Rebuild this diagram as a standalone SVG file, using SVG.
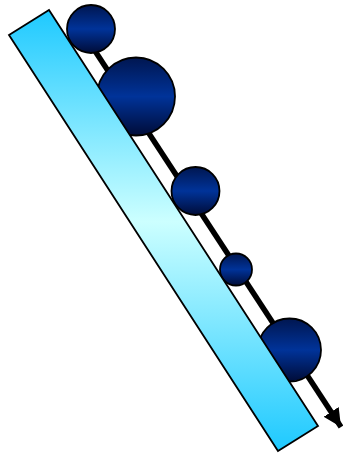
<svg xmlns="http://www.w3.org/2000/svg" width="343" height="457" viewBox="0 0 343 457">
<defs>
<linearGradient id="glass" gradientUnits="userSpaceOnUse" x1="0" y1="10" x2="0" y2="451">
<stop offset="0" stop-color="#1ec9ff"/>
<stop offset="0.48" stop-color="#ccffff"/>
<stop offset="1" stop-color="#1ec9ff"/>
</linearGradient>
<linearGradient id="ball" x1="0" y1="0" x2="0" y2="1">
<stop offset="0" stop-color="#001650"/>
<stop offset="0.5" stop-color="#003399"/>
<stop offset="1" stop-color="#000c38"/>
</linearGradient>
<marker id="head" markerUnits="userSpaceOnUse" markerWidth="22" markerHeight="22" viewBox="0 0 22 22" refX="18" refY="11" orient="auto">
<path d="M0,2 L18,11 L0,20 Z" fill="#000"/>
</marker>
<style>
.ball{fill:url(#ball);stroke:#000;stroke-width:1.8}
.conn{stroke:#000;stroke-width:5.5;fill:none}
</style>
</defs>
<g id="connectors">
<line class="conn" x1="80" y1="28" x2="341" y2="427" marker-end="url(#head)"/>
</g>
<g id="ball1"><circle class="ball" cx="91" cy="29" r="24"/></g>
<g id="ball2"><circle class="ball" cx="136" cy="96.5" r="39"/></g>
<g id="ball3"><circle class="ball" cx="195.5" cy="191" r="24"/></g>
<g id="ball4"><circle class="ball" cx="236" cy="269.5" r="16"/></g>
<g id="ball5"><circle class="ball" cx="289.5" cy="350" r="31.5"/></g>
<g id="plate"><polygon points="9,35 49,10 318,426 278,451" fill="url(#glass)" stroke="#000" stroke-width="1.8" stroke-linejoin="miter"/></g>
</svg>
